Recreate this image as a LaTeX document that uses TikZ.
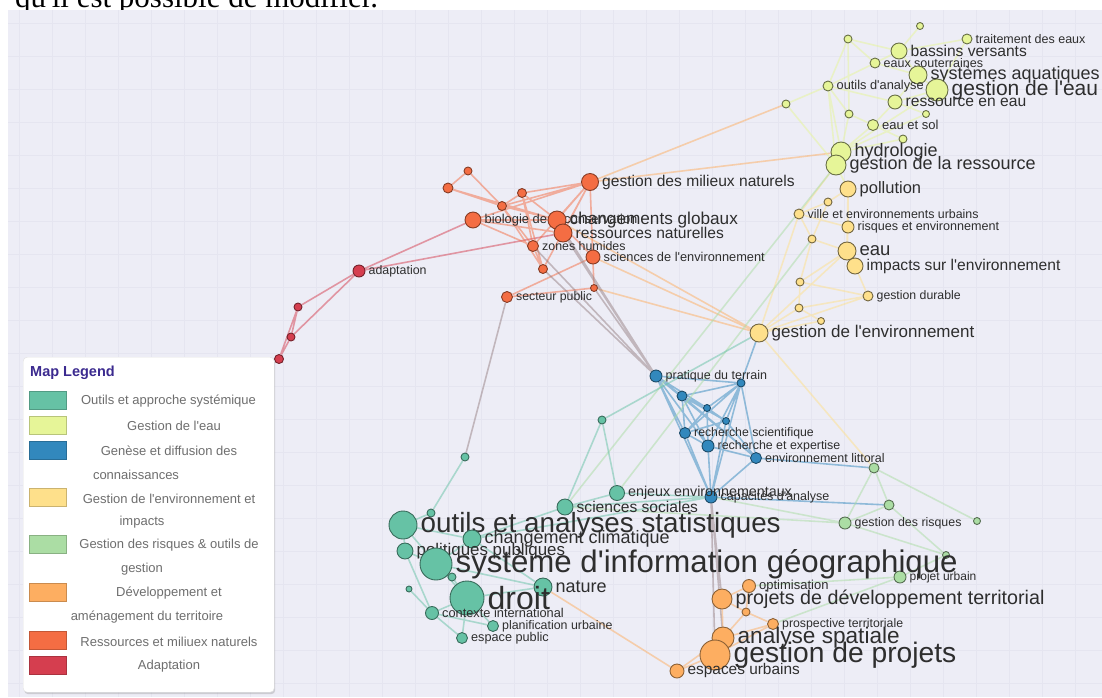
\documentclass[tikz,border=0pt]{standalone}
\usepackage{fontspec}
\newfontfamily\mapfont{Liberation Sans}
\newfontfamily\docfont{Liberation Serif}
\usetikzlibrary{backgrounds,shadows}

% cluster colours
\definecolor{outC}{HTML}{66C2A5}
\definecolor{eauC}{HTML}{E6F598}
\definecolor{conC}{HTML}{3288BD}
\definecolor{envC}{HTML}{FEE08B}
\definecolor{risC}{HTML}{ABDDA4}
\definecolor{devC}{HTML}{FDAE61}
\definecolor{resC}{HTML}{F46D43}
\definecolor{adaC}{HTML}{D53E4F}
\definecolor{mixC}{RGB}{150,128,132}
\definecolor{bgC}{RGB}{237,237,246}
\definecolor{gridC}{RGB}{229,229,240}
\definecolor{txtC}{HTML}{2E2E2E}
\definecolor{legtxtC}{HTML}{6E6E6E}
\definecolor{legtitC}{HTML}{3B2A8F}

\tikzset{
  bub/.style={circle, inner sep=0pt, line width=0.9pt},
  out/.style={bub, fill=outC, draw=outC!55!black, minimum size=#1},
  eau/.style={bub, fill=eauC, draw=eauC!45!black, minimum size=#1},
  con/.style={bub, fill=conC, draw=conC!55!black, minimum size=#1},
  env/.style={bub, fill=envC, draw=envC!45!black, minimum size=#1},
  ris/.style={bub, fill=risC, draw=risC!50!black, minimum size=#1},
  dev/.style={bub, fill=devC, draw=devC!55!black, minimum size=#1},
  res/.style={bub, fill=resC, draw=resC!55!black, minimum size=#1},
  ada/.style={bub, fill=adaC, draw=adaC!55!black, minimum size=#1},
  lb/.style={font=\fontsize{#1}{#1}\selectfont, text=txtC, inner sep=3pt},
  ln/.style={draw=#1, draw opacity=0.5, line width=1.6pt},
  legbox/.style={draw=black!12, fill=white, rounded corners=4pt,
    drop shadow={opacity=0.3, shadow xshift=1pt, shadow yshift=-2pt}},
  swatch/.style={fill=#1, draw=#1!80!black, line width=0.6pt, minimum width=37, minimum height=18, inner sep=0pt},
  legtext/.style={text=legtxtC, font=\fontsize{13}{13}\selectfont, inner sep=0pt}
}

\begin{document}
\mapfont
\begin{tikzpicture}[x=1pt, y=-1pt]
  \useasboundingbox (0,0) rectangle (1102,697);

  % Gestion de l'eau
  \node (w1) [eau=7] at (920,26) {};
  \node (w2) [eau=8] at (848,39) {};
  \node (traitement) [eau=10, label={[lb=12.5]right:traitement des eaux}] at (967,39) {};
  \node (bassins) [eau=16, label={[lb=15.6]right:bassins versants}] at (899,51) {};
  \node (souterraines) [eau=10, label={[lb=12.5]right:eaux souterraines}] at (875,63) {};
  \node (aquatiques) [eau=18, label={[lb=18]right:systèmes aquatiques}] at (918,75) {};
  \node (outilsanalyse) [eau=10, label={[lb=12.8]right:outils d'analyse}] at (828,86) {};
  \node (gestioneau) [eau=22, label={[lb=21]right:gestion de l'eau}] at (937,90) {};
  \node (ressourceeau) [eau=14, label={[lb=15.6]right:ressource en eau}] at (895,102) {};
  \node (w3) [eau=8] at (786,104) {};
  \node (w4) [eau=8] at (849,114) {};
  \node (w5) [eau=7] at (926,114) {};
  \node (eausol) [eau=11, label={[lb=13]right:eau et sol}] at (873,125) {};
  \node (w6) [eau=8] at (903,139) {};
  \node (hydrologie) [eau=20, label={[lb=18]right:hydrologie}] at (841,152) {};
  \node (gestionressource) [eau=20, label={[lb=18]right:gestion de la ressource}] at (836,165) {};

  % Gestion de l'environnement et impacts
  \node (pollution) [env=16, label={[lb=16.5]right:pollution}] at (848,189) {};
  \node (e1) [env=8] at (828,202) {};
  \node (ville) [env=10, label={[lb=12.4]right:ville et environnements urbains}] at (799,214) {};
  \node (risquesenv) [env=12, label={[lb=12.6]right:risques et environnement}] at (848,227) {};
  \node (e2) [env=8] at (812,239) {};
  \node (eau) [env=18, label={[lb=18.5]right:eau}] at (847,251) {};
  \node (impacts) [env=16, label={[lb=15.6]right:impacts sur l'environnement}] at (855,266) {};
  \node (e3) [env=8] at (800,282) {};
  \node (durable) [env=10, label={[lb=12.3]right:gestion durable}] at (868,296) {};
  \node (e4) [env=8] at (799,308) {};
  \node (e5) [env=7] at (821,321) {};
  \node (gestionenv) [env=18, label={[lb=17]right:gestion de l'environnement}] at (759,333) {};

  % Ressources et milieux naturels
  \node (r1) [res=8] at (468,171) {};
  \node (r2) [res=10] at (448,188) {};
  \node (milieux) [res=17, label={[lb=15.6]right:gestion des milieux naturels}] at (590,182) {};
  \node (r3) [res=9] at (522,193) {};
  \node (r4) [res=9] at (502,206) {};
  \node (biologie) [res=16, label={[lb=12.9]right:biologie de la conservation}] at (473,220) {};
  \node (changements) [res=18, label={[lb=17.2]right:changements globaux}] at (557,220) {};
  \node (ressourcesnat) [res=18, label={[lb=15.6]right:ressources naturelles}] at (563,233) {};
  \node (zones) [res=11, label={[lb=12.4]right:zones humides}] at (533,246) {};
  \node (sciencesenv) [res=14, label={[lb=12.8]right:sciences de l'environnement}] at (593,257) {};
  \node (r5) [res=9] at (543,269) {};
  \node (r6) [res=7] at (594,288) {};
  \node (secteur) [res=11, label={[lb=12.3]right:secteur public}] at (507,297) {};

  % Adaptation
  \node (adaptation) [ada=12, label={[lb=12.4]right:adaptation}] at (359,271) {};
  \node (a1) [ada=8] at (298,307) {};
  \node (a2) [ada=8] at (291,337) {};
  \node (a3) [ada=9] at (279,359) {};

  % Genese et diffusion des connaissances
  \node (pratique) [con=12, label={[lb=12.5]right:pratique du terrain}] at (656,376) {};
  \node (b1) [con=8] at (741,383) {};
  \node (b2) [con=10] at (682,396) {};
  \node (b3) [con=7] at (707,408) {};
  \node (b4) [con=7] at (726,421) {};
  \node (recherchesci) [con=11, label={[lb=12.3]right:recherche scientifique}] at (685,433) {};
  \node (expertise) [con=12, label={[lb=12.4]right:recherche et expertise}] at (708,446) {};
  \node (littoral) [con=11, label={[lb=12.5]right:environnement littoral}] at (756,458) {};
  \node (capacites) [con=12, label={[lb=12.5]right:capacités d'analyse}] at (711,497) {};

  % Gestion des risques
  \node (g1) [ris=10] at (874,468) {};
  \node (g2) [ris=10] at (889,505) {};
  \node (risques) [ris=12, label={[lb=12.4]right:gestion des risques}] at (845,523) {};
  \node (g3) [ris=7] at (977,521) {};
  \node (g4) [ris=7] at (946,555) {};
  \node (urbain) [ris=12, label={[lb=12]right:projet urbain}] at (900,577) {};

  % Outils et approche systemique
  \node (t1) [out=8] at (602,420) {};
  \node (t2) [out=8] at (465,457) {};
  \node (t3) [out=8] at (431,513) {};
  \node (enjeux) [out=15, label={[lb=14.3]right:enjeux environnementaux}] at (617,493) {};
  \node (sociales) [out=16, label={[lb=15.6]right:sciences sociales}] at (565,507) {};
  \node (statistiques) [out=28, label={[lb=27.8]right:outils et analyses statistiques}] at (403,525) {};
  \node (climatique) [out=18, label={[lb=18]right:changement climatique}] at (472,539) {};
  \node (politiques) [out=16, label={[lb=16.9]right:politiques publiques}] at (405,551) {};
  \node (sig) [out=32, label={[lb=31.2]right:système d'information géographique}] at (436,564) {};
  \node (t4) [out=8] at (452,577) {};
  \node (t5) [out=6] at (409,589) {};
  \node (nature) [out=18, label={[lb=18]right:nature}] at (543,587) {};
  \node (droit) [out=34, label={[lb=32]right:droit}] at (467,598) {};
  \node (contexte) [out=13, label={[lb=12.8]right:contexte international}] at (432,613) {};
  \node (planification) [out=11, label={[lb=12.4]right:planification urbaine}] at (493,626) {};
  \node (espacepublic) [out=11, label={[lb=12.7]right:espace public}] at (462,638) {};

  % Developpement et amenagement du territoire
  \node (optimisation) [dev=13, label={[lb=13]right:optimisation}] at (749,586) {};
  \node (projetsdev) [dev=20, label={[lb=19.7]right:projets de développement territorial}] at (722,599) {};
  \node (d1) [dev=8] at (746,612) {};
  \node (prospective) [dev=11, label={[lb=12.3]right:prospective territoriale}] at (773,624) {};
  \node (spatiale) [dev=22, label={[lb=22.6]right:analyse spatiale}] at (723,638) {};
  \node (gestionprojets) [dev=30, label={[lb=28.2]right:gestion de projets}] at (715,655) {};
  \node (espacesurbains) [dev=14, label={[lb=15.4]right:espaces urbains}] at (677,671) {};

  \begin{pgfonlayer}{background}
    \node (intro) [anchor=base west, inner sep=0pt, font=\docfont\fontsize{31}{31}\selectfont] at (15,7) {qu'il est possible de modifier.};
    \fill[bgC] (8,10) rectangle (1102,697);
    \foreach \gx in {19,52,...,1102} \draw[gridC, line width=0.7pt] (\gx,10) -- (\gx,697);
    \foreach \gy in {23,56,...,697} \draw[gridC, line width=0.7pt] (8,\gy) -- (1102,\gy);

    % links
    \draw[ln=adaC] (adaptation) -- (biologie) (adaptation) -- (ressourcesnat) (adaptation) -- (a1)
      (adaptation) -- (a2) (a1) -- (a2) (a1) -- (a3) (a2) -- (a3);
    \draw[ln=resC] (r1) -- (r2) (r1) -- (r4) (r2) -- (r4) (r2) -- (changements) (r3) -- (milieux)
      (r4) -- (milieux) (r3) -- (r4) (r3) -- (changements) (r4) -- (changements) (biologie) -- (milieux)
      (biologie) -- (changements) (biologie) -- (ressourcesnat) (milieux) -- (changements)
      (milieux) -- (ressourcesnat) (milieux) -- (zones) (milieux) -- (r6) (milieux) -- (r5)
      (r3) -- (zones) (r3) -- (r5) (r4) -- (zones) (r4) -- (r5) (changements) -- (sciencesenv)
      (zones) -- (r5) (r6) -- (secteur) (sciencesenv) -- (secteur) (biologie) -- (zones);
    \draw[ln=devC] (milieux) -- (w3) (milieux) -- (hydrologie) (changements) -- (gestionenv)
      (sciencesenv) -- (gestionenv) (r6) -- (gestionenv) (nature) -- (espacesurbains);
    \draw[ln=mixC] (zones) -- (pratique) (r5) -- (pratique) (changements) -- (pratique)
      (ressourcesnat) -- (pratique) (r6) -- (pratique) (secteur) -- (t2)
      (capacites) -- (projetsdev) (capacites) -- (spatiale) (capacites) -- (gestionprojets);
    \draw[ln=eauC] (w1) -- (bassins) (w2) -- (bassins) (w2) -- (outilsanalyse) (w2) -- (souterraines)
      (traitement) -- (bassins) (traitement) -- (gestioneau) (bassins) -- (aquatiques)
      (bassins) -- (souterraines) (souterraines) -- (outilsanalyse) (souterraines) -- (aquatiques)
      (aquatiques) -- (gestioneau) (aquatiques) -- (ressourceeau) (outilsanalyse) -- (ressourceeau)
      (outilsanalyse) -- (w3) (outilsanalyse) -- (w4) (ressourceeau) -- (gestioneau)
      (ressourceeau) -- (eausol) (ressourceeau) -- (w5) (w4) -- (eausol) (w4) -- (hydrologie)
      (eausol) -- (w6) (eausol) -- (hydrologie) (w6) -- (hydrologie) (gestioneau) -- (hydrologie)
      (w5) -- (hydrologie) (outilsanalyse) -- (hydrologie) (hydrologie) -- (gestionressource)
      (w3) -- (gestionressource) (gestionressource) -- (pollution) (w2) -- (w4)
      (outilsanalyse) -- (gestionressource);
    \draw[ln=envC] (pollution) -- (e1) (pollution) -- (risquesenv) (pollution) -- (eau) (e1) -- (ville)
      (e1) -- (e2) (ville) -- (risquesenv) (ville) -- (e2) (risquesenv) -- (eau) (e2) -- (eau)
      (e2) -- (e3) (eau) -- (impacts) (impacts) -- (durable) (eau) -- (e3) (e3) -- (e4)
      (e3) -- (durable) (e4) -- (durable) (e4) -- (e5) (e4) -- (gestionenv) (e5) -- (gestionenv)
      (durable) -- (gestionenv) (eau) -- (gestionenv) (gestionenv) -- (g1)
      (gestionressource) -- (ville) (ville) -- (gestionenv);
    \draw[ln=conC] (pratique) -- (b1) (pratique) -- (b2) (pratique) -- (b3) (pratique) -- (recherchesci)
      (pratique) -- (expertise) (pratique) -- (capacites) (pratique) -- (littoral) (b1) -- (b2)
      (b1) -- (b3) (b1) -- (b4) (b1) -- (recherchesci) (b1) -- (littoral) (b1) -- (expertise)
      (b1) -- (capacites) (b2) -- (b3) (b2) -- (b4) (b2) -- (recherchesci) (b2) -- (expertise)
      (b2) -- (littoral) (b3) -- (b4) (b3) -- (expertise) (b3) -- (recherchesci) (b4) -- (littoral)
      (b4) -- (recherchesci) (b4) -- (capacites) (recherchesci) -- (expertise)
      (recherchesci) -- (capacites) (expertise) -- (littoral) (expertise) -- (capacites)
      (littoral) -- (capacites) (littoral) -- (g1) (capacites) -- (g2) (gestionenv) -- (b1);
    \draw[ln=risC] (g1) -- (g2) (g1) -- (risques) (g2) -- (risques) (g1) -- (g3) (g2) -- (g4)
      (risques) -- (g4) (g4) -- (urbain) (urbain) -- (prospective) (urbain) -- (optimisation)
      (risques) -- (sociales) (risques) -- (capacites) (gestionressource) -- (sociales)
      (e2) -- (enjeux);
    \draw[ln=outC] (t1) -- (enjeux) (t1) -- (sociales) (t1) -- (gestionenv) (t2) -- (t3)
      (t3) -- (statistiques) (enjeux) -- (capacites) (sociales) -- (capacites) (sociales) -- (enjeux)
      (sociales) -- (climatique) (statistiques) -- (climatique) (statistiques) -- (politiques)
      (statistiques) -- (sig) (politiques) -- (sig) (climatique) -- (sig) (climatique) -- (nature)
      (sig) -- (droit) (sig) -- (t4) (sig) -- (nature) (t4) -- (droit) (t5) -- (contexte)
      (droit) -- (contexte) (droit) -- (nature) (contexte) -- (espacepublic) (droit) -- (planification)
      (droit) -- (espacepublic) (contexte) -- (planification) (politiques) -- (contexte)
      (climatique) -- (capacites);
    \draw[ln=devC] (optimisation) -- (projetsdev) (optimisation) -- (d1) (projetsdev) -- (d1)
      (projetsdev) -- (spatiale) (d1) -- (spatiale) (d1) -- (prospective) (prospective) -- (spatiale)
      (prospective) -- (gestionprojets) (spatiale) -- (gestionprojets)
      (gestionprojets) -- (espacesurbains) (spatiale) -- (espacesurbains);
  \end{pgfonlayer}

  % legend
  \node (legend) [legbox, minimum width=251, minimum height=335, anchor=north west] at (23,357) {};
  \node (legtitle) [anchor=west, inner sep=0pt, text=legtitC, font=\bfseries\fontsize{14.5}{14.5}\selectfont] at (30,373) {Map Legend};
  \node (sw1) [swatch=outC] at (47.5,400) {};
  \node (sw2) [swatch=eauC] at (47.5,425) {};
  \node (sw3) [swatch=conC] at (47.5,450) {};
  \node (sw4) [swatch=envC] at (47.5,497) {};
  \node (sw5) [swatch=risC] at (47.5,544) {};
  \node (sw6) [swatch=devC] at (47.5,592) {};
  \node (sw7) [swatch=resC] at (47.5,640) {};
  \node (sw8) [swatch=adaC] at (47.5,665) {};
  \node (lt1) [legtext] at (168.5,401) {Outils et approche systémique};
  \node (lt2) [legtext] at (174,426) {Gestion de l'eau};
  \node (lt3) [legtext] at (169,451) {Genèse et diffusion des};
  \node (lt3b) [legtext] at (136,475) {connaissances};
  \node (lt4) [legtext] at (169,499) {Gestion de l'environnement et};
  \node (lt4b) [legtext] at (142,522) {impacts};
  \node (lt5) [legtext] at (169,545) {Gestion des risques \& outils de};
  \node (lt5b) [legtext] at (142,569) {gestion};
  \node (lt6) [legtext] at (169,593) {Développement et};
  \node (lt6b) [legtext] at (147,617) {aménagement du territoire};
  \node (lt7) [legtext] at (169,642) {Ressources et miliuex naturels};
  \node (lt8) [legtext] at (169,666) {Adaptation};
\end{tikzpicture}
\end{document}
